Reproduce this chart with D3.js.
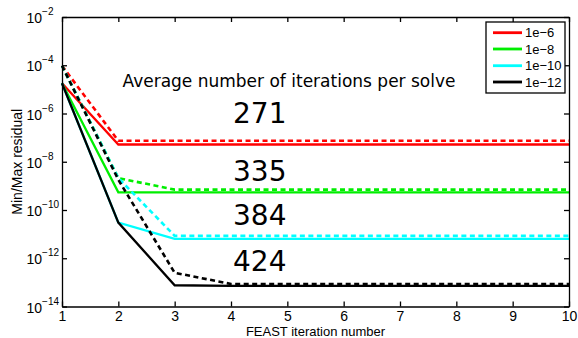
<!DOCTYPE html>
<html>
<head>
<meta charset="utf-8">
<script src="https://cdn.jsdelivr.net/npm/d3@7"></script>
<style>
  body { margin: 0; background: #fff; }
  svg { display: block; }
  .axis text { font-family: "Liberation Sans", Arial, sans-serif; font-size: 14px; fill: #000; }
  .axis path, .axis line { stroke: #000; stroke-width: 1.3; }
</style>
</head>
<body>
<svg></svg>
<script>
// FEAST iterations on x, residual (log) on y
const iterations = [1, 2, 3, 4, 5, 6, 7, 8, 9, 10];
const tolerances = ["1e\u22126", "1e\u22128", "1e\u221210", "1e\u221212"];

// solid = min residual, dashed = max residual
const minRes6  = [1.8e-5, 5.2e-8, 5.2e-8, 5.2e-8, 5.2e-8, 5.2e-8, 5.2e-8, 5.2e-8, 5.2e-8, 5.2e-8];
const maxRes6  = [9.5e-5, 7.4e-8, 7.4e-8, 7.4e-8, 7.4e-8, 7.4e-8, 7.4e-8, 7.4e-8, 7.4e-8, 7.4e-8];
const minRes8  = [1.8e-5, 5.4e-10, 5.4e-10, 5.4e-10, 5.4e-10, 5.4e-10, 5.4e-10, 5.4e-10, 5.4e-10, 5.4e-10];
const maxRes8  = [9.5e-5, 2.1e-9, 7.0e-10, 7.0e-10, 7.0e-10, 7.0e-10, 7.0e-10, 7.0e-10, 7.0e-10, 7.0e-10];
const minRes10 = [1.8e-5, 3.0e-11, 6.4e-12, 6.4e-12, 6.4e-12, 6.4e-12, 6.4e-12, 6.4e-12, 6.4e-12, 6.4e-12];
const maxRes10 = [9.5e-5, 2.1e-9, 8.5e-12, 8.5e-12, 8.5e-12, 8.5e-12, 8.5e-12, 8.5e-12, 8.5e-12, 8.5e-12];
const minRes12 = [1.8e-5, 3.0e-11, 7.6e-14, 7.1e-14, 7.1e-14, 7.1e-14, 7.1e-14, 7.1e-14, 7.1e-14, 7.1e-14];
const maxRes12 = [9.5e-5, 1.8e-9, 2.5e-13, 8.6e-14, 8.6e-14, 8.6e-14, 8.6e-14, 8.6e-14, 8.6e-14, 8.6e-14];

const avgIters = ["271", "335", "384", "424"];
const yTickPowers = [-2, -4, -6, -8, -10, -12, -14];

const colors = ["#ff0000", "#00ee00", "#00ffff", "#000000"];

const width = 578, height = 338;
const padLeft = 62, padRight = 569, padTop = 17, padBottom = 306.5;

const svg = d3.select('svg')
    .attr('width', width)
    .attr('height', height);

const xScale = d3.scaleLinear().domain([1, 10]).range([padLeft, padRight]);
const yScale = d3.scaleLog().domain([1e-14, 1e-2]).range([padBottom, padTop]);

const series = [
    { min: minRes6, max: maxRes6 },
    { min: minRes8, max: maxRes8 },
    { min: minRes10, max: maxRes10 },
    { min: minRes12, max: maxRes12 }
];

const line = d3.line()
    .x((d, i) => xScale(iterations[i]))
    .y(d => yScale(d));

series.forEach((s, k) => {
    svg.append('path')
        .attr('d', line(s.min))
        .attr('fill', 'none')
        .attr('stroke', colors[k])
        .attr('stroke-width', 2.3);
    svg.append('path')
        .attr('d', line(s.max))
        .attr('fill', 'none')
        .attr('stroke', colors[k])
        .attr('stroke-width', 2.6)
        .attr('stroke-dasharray', '5,3.5');
});

// axes (box with inward ticks)
const xAxis = d3.axisBottom(xScale).tickValues(iterations).tickFormat(d3.format('d'))
    .tickSizeInner(-5).tickSizeOuter(0).tickPadding(5);
svg.append('g').attr('class', 'axis')
    .attr('transform', 'translate(0,' + padBottom + ')')
    .call(xAxis);

svg.append('g').attr('class', 'axis')
    .attr('transform', 'translate(0,' + padTop + ')')
    .call(d3.axisTop(xScale).tickValues(iterations).tickFormat('').tickSizeInner(-5).tickSizeOuter(0));

const yVals = yTickPowers.map(p => Math.pow(10, p));
svg.append('g').attr('class', 'axis')
    .attr('transform', 'translate(' + padLeft + ',0)')
    .call(d3.axisLeft(yScale).tickValues(yVals).tickFormat('').tickSizeInner(-5).tickSizeOuter(0));

svg.append('g').attr('class', 'axis')
    .attr('transform', 'translate(' + padRight + ',0)')
    .call(d3.axisRight(yScale).tickValues(yVals).tickFormat('').tickSizeInner(-5).tickSizeOuter(0));

// y labels 10^p
const yLab = svg.append('g')
    .style('font-family', '"Liberation Sans", Arial, sans-serif');
yTickPowers.forEach(p => {
    const t = yLab.append('text')
        .attr('x', 26.5)
        .attr('y', yScale(Math.pow(10, p)) + 6)
        .attr('font-size', 14);
    t.append('tspan').text('10');
    t.append('tspan').attr('dy', -8).attr('font-size', 10).text('\u2212' + Math.abs(p));
});

// axis titles
svg.append('text')
    .attr('x', (padLeft + padRight) / 2)
    .attr('y', 336)
    .attr('text-anchor', 'middle')
    .style('font-family', '"Liberation Sans", Arial, sans-serif')
    .style('font-size', '13px')
    .text('FEAST iteration number');

svg.append('text')
    .attr('transform', 'translate(22,' + ((padTop + padBottom) / 2) + ') rotate(-90)')
    .attr('text-anchor', 'middle')
    .style('font-family', '"Liberation Sans", Arial, sans-serif')
    .style('font-size', '14px')
    .text('Min/Max residual');

// annotations
svg.append('text')
    .attr('x', 289)
    .attr('y', 87.3)
    .attr('text-anchor', 'middle')
    .style('font-family', '"DejaVu Sans", sans-serif')
    .style('font-size', '17px')
    .text('Average number of iterations per solve');

const avgY = [123.3, 180.7, 225.3, 271];
svg.selectAll('text.avg')
    .data(avgIters)
    .enter()
    .append('text')
    .attr('class', 'avg')
    .attr('x', 233)
    .attr('y', (d, i) => avgY[i])
    .style('font-family', '"DejaVu Sans", sans-serif')
    .style('font-size', '28px')
    .text(d => d);

// legend
const legend = svg.append('g');
legend.append('rect')
    .attr('x', 486).attr('y', 22)
    .attr('width', 79).attr('height', 71)
    .attr('fill', '#fff')
    .attr('stroke', '#000')
    .attr('stroke-width', 1.3);

const legY = [32.7, 49, 65.7, 82];
tolerances.forEach((t, i) => {
    legend.append('line')
        .attr('x1', 493).attr('x2', 522)
        .attr('y1', legY[i]).attr('y2', legY[i])
        .attr('stroke', colors[i])
        .attr('stroke-width', 2.8);
    legend.append('text')
        .attr('x', 525)
        .attr('y', legY[i] + 4.5)
        .style('font-family', '"Liberation Sans", Arial, sans-serif')
        .style('font-size', '13px')
        .text(t);
});
</script>
</body>
</html>
